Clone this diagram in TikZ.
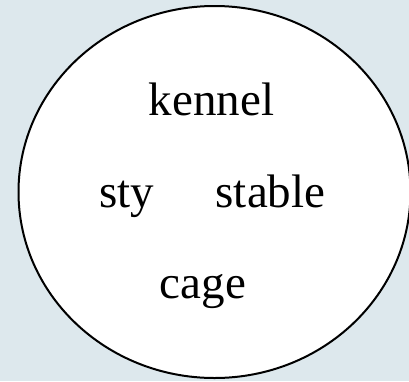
\documentclass[tikz,border=0pt]{standalone}
\usepackage{fontspec}
\setmainfont{Liberation Serif}
\usepackage{tikz}
\usetikzlibrary{positioning}
\usetikzlibrary{shapes.geometric}
\definecolor{bgblue}{RGB}{221,232,237}

\begin{document}
\begin{tikzpicture}[x=1pt, y=-1pt,
    every node/.style = {font=\fontsize{47}{50}\selectfont, inner sep=0pt, anchor=base},
    pen/.style = {draw=none, fill=white, ellipse, line width=2pt, anchor=center,
                  minimum width=392pt, minimum height=372pt}
    ]
    \fill[bgblue] (0,0) rectangle (409,381);
    \useasboundingbox (0,0) rectangle (409,381);
    \node[pen, draw=black] (pen) at (214.5,192) {};
    \node (kennel) at (211.5,115) {kennel};
    \node (sty) at (127,207) {sty};
    \node (stable) at (270.5,207) {stable};
    \node (cage) at (203,298) {cage};
    \end{tikzpicture}
\end{document}
